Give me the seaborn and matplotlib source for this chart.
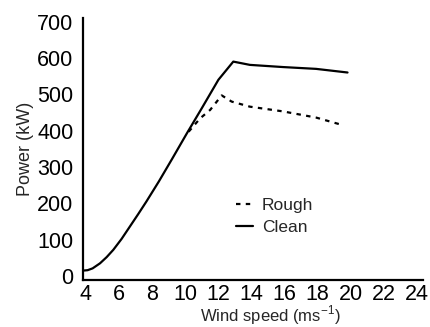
import matplotlib
matplotlib.use("Agg")
import matplotlib.pyplot as plt
import seaborn as sns
import pandas as pd

# --- datos ---
wind_clean = [3.85, 4.1, 4.4, 4.85, 5.25, 5.65, 6.15, 6.65, 7.15, 7.65, 8.4, 9.2, 10.1, 11.0,
              12.0, 12.9, 13.9, 15.9, 17.9, 19.8]
power_clean = [15, 16, 21, 35, 52, 72, 102, 136, 170, 205, 260, 322, 393, 462,
               540, 590, 581, 575, 570, 560]

wind_rough = [10.2, 10.9, 11.5, 12.2, 12.8, 13.9, 15.9, 17.9, 19.45]
power_rough = [397, 434, 457, 497, 480, 466, 453, 436, 416]

xticks = [4, 6, 8, 10, 12, 14, 16, 18, 20, 22, 24]
yticks = [0, 100, 200, 300, 400, 500, 600, 700]

clean = pd.DataFrame({"wind": wind_clean, "power": power_clean})
rough = pd.DataFrame({"wind": wind_rough, "power": power_rough})

sns.set_style("ticks")
plt.rcParams["font.family"] = ["Liberation Sans", "DejaVu Sans"]
plt.rcParams["mathtext.fontset"] = "custom"
plt.rcParams["mathtext.rm"] = "Liberation Sans"

fig = plt.figure(figsize=(4.3, 3.27), dpi=100)
ax = fig.add_axes([83 / 430, 47 / 327, 340 / 430, 262 / 327])

sns.lineplot(data=rough, x="wind", y="power", ax=ax, color="black",
             linewidth=1.6, linestyle=(0, (2.0, 2.4)), label="Rough")
sns.lineplot(data=clean, x="wind", y="power", ax=ax, color="black",
             linewidth=1.6, label="Clean")

ax.set_xlim(3.82, 24.36)
ax.set_ylim(-11, 710)
ax.set_xticks(xticks)
ax.set_yticks(yticks)
ax.tick_params(length=0, labelsize=15.5, colors="black")
ax.tick_params(axis="x", pad=3)
ax.tick_params(axis="y", pad=7)

sns.despine(ax=ax)
for s in ["left", "bottom"]:
    ax.spines[s].set_linewidth(1.6)
    ax.spines[s].set_color("black")

ax.set_xlabel("Wind speed (ms$^{\\mathrm{-1}}$)", fontsize=12)
ax.set_ylabel("Power (kW)", fontsize=13)
ax.xaxis.set_label_coords(0.55, -0.088)
ax.yaxis.set_label_coords(-0.145, 0.5)

ax.legend(loc="upper left", bbox_to_anchor=(236 / 430, 1 - 198 / 327),
          bbox_transform=fig.transFigure, frameon=False, fontsize=12.5,
          handlelength=1.0, handletextpad=0.5, labelspacing=0.38,
          borderpad=0, borderaxespad=0)

fig.savefig("out.png", dpi=100)
